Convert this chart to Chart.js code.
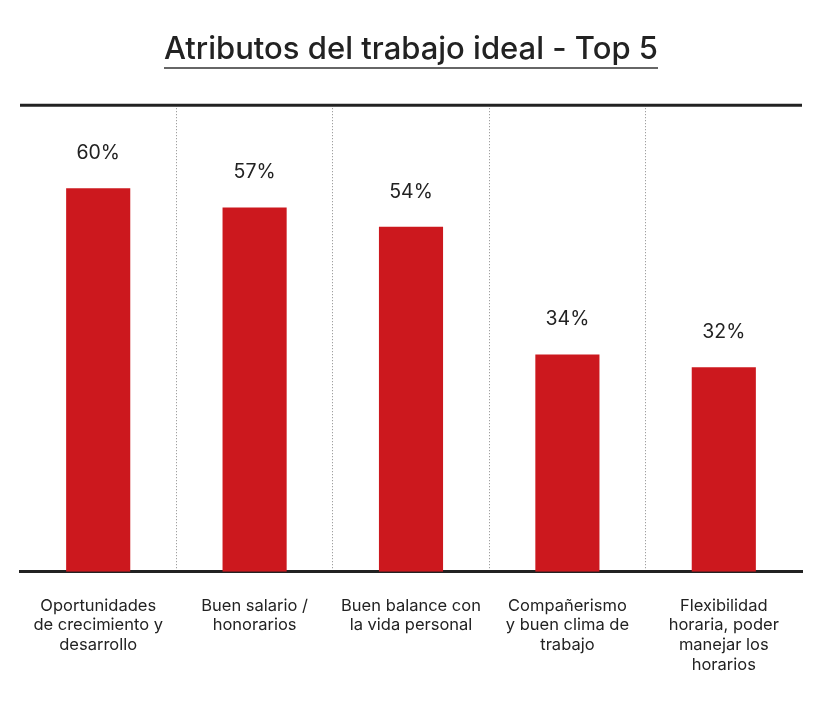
<!DOCTYPE html>
<html>
<head>
<meta charset="utf-8">
<script src="https://cdn.jsdelivr.net/npm/chart.js@4/dist/chart.umd.min.js"></script>
<style>
  html, body { margin: 0; padding: 0; background: #fff; }
  #wrap { width: 822px; height: 701px; position: relative; }
</style>
</head>
<body>
<div id="wrap"><canvas id="topChart"></canvas></div>
<script>
const titleText = 'Atributos del trabajo ideal - Top 5';
const categories = [
  ['Oportunidades', 'de crecimiento y', 'desarrollo'],
  ['Buen salario /', 'honorarios'],
  ['Buen balance con', 'la vida personal'],
  ['Compañerismo', 'y buen clima de', 'trabajo'],
  ['Flexibilidad', 'horaria, poder', 'manejar los', 'horarios']
];
const values = [60, 57, 54, 34, 32];

const FONT = 'Inter, "Noto Sans", sans-serif';
const INK = '#222';
const TITLE_SIZE = 31;

// value labels, top rule, title underline
const extras = {
  id: 'extras',
  afterDatasetsDraw(chart) {
    const ctx = chart.ctx;
    const meta = chart.getDatasetMeta(0);
    ctx.save();
    ctx.fillStyle = INK;
    ctx.font = '19.5px ' + FONT;
    ctx.textAlign = 'center';
    ctx.textBaseline = 'middle';
    meta.data.forEach((bar, i) => {
      ctx.fillText(values[i] + '%', bar.x, bar.y - 35);
    });
    ctx.restore();
  },
  afterDraw(chart) {
    const ctx = chart.ctx;
    const area = chart.chartArea;
    ctx.save();
    ctx.strokeStyle = INK;
    ctx.lineWidth = 3;
    ctx.beginPath();
    ctx.moveTo(area.left, area.top);
    ctx.lineTo(area.right, area.top);
    ctx.stroke();

    ctx.font = '500 ' + TITLE_SIZE + 'px ' + FONT;
    const w = ctx.measureText(titleText).width;
    const cx = (area.left + area.right) / 2;
    ctx.lineWidth = 1.5;
    ctx.strokeStyle = '#333';
    ctx.beginPath();
    ctx.moveTo(cx - w / 2, 68);
    ctx.lineTo(cx + w / 2, 68);
    ctx.stroke();
    ctx.restore();
  }
};

new Chart(document.getElementById('topChart'), {
  type: 'bar',
  data: {
    labels: categories,
    datasets: [{
      data: values,
      backgroundColor: '#CC181E',
      categoryPercentage: 1,
      barPercentage: 0.41
    }]
  },
  options: {
    responsive: true,
    maintainAspectRatio: false,
    animation: false,
    layout: { padding: { left: 20, right: 20, top: 0, bottom: 2 } },
    plugins: {
      legend: { display: false },
      tooltip: { enabled: false },
      title: {
        display: true,
        text: titleText,
        color: INK,
        font: { family: FONT, size: TITLE_SIZE, weight: 500, lineHeight: 1.2 },
        padding: { top: 31, bottom: 37 }
      }
    },
    scales: {
      x: {
        grid: {
          display: true,
          drawTicks: false,
          color: ctx => (ctx.type !== 'tick' || ctx.index === 0) ? 'rgba(0,0,0,0)' : '#8a8a8a',
          lineWidth: 1
        },
        border: { display: true, color: INK, width: 3, dash: [1, 2] },
        ticks: {
          color: INK,
          font: { family: FONT, size: 16.5, lineHeight: 1.2 },
          padding: 24,
          maxRotation: 0,
          autoSkip: false
        }
      },
      y: {
        display: false,
        min: 0,
        max: 73
      }
    }
  },
  plugins: [extras]
});
</script>
</body>
</html>
